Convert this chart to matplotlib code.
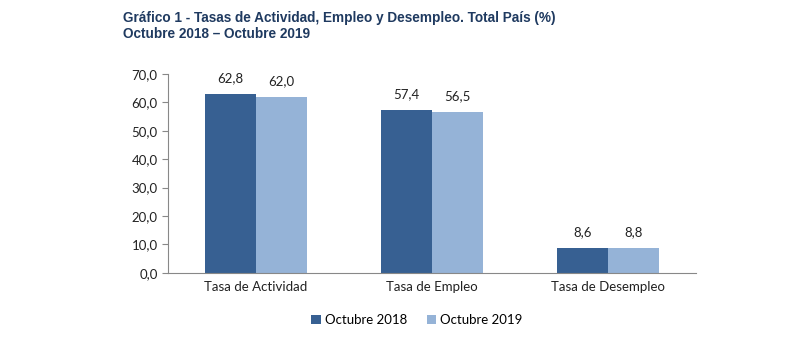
import numpy as np
import matplotlib.pyplot as plt

categories = ['Tasa de Actividad', 'Tasa de Empleo', 'Tasa de Desempleo']
oct_2018 = [62.8, 57.4, 8.6]
oct_2019 = [62.0, 56.5, 8.8]
series_names = ['Octubre 2018', 'Octubre 2019']

plt.rcParams['font.family'] = ['Lato', 'DejaVu Sans']

fig = plt.figure(figsize=(7.94, 3.39), dpi=100)
ax = fig.add_axes([0.2116, 0.195, 0.665, 0.587])

x = np.arange(len(categories))
w = 0.29
b1 = ax.bar(x - w / 2, oct_2018, w, color='#376092', label=series_names[0])
b2 = ax.bar(x + w / 2, oct_2019, w, color='#95B3D7', label=series_names[1])

for bars in (b1, b2):
    for r in bars:
        v = r.get_height()
        ax.text(r.get_x() + r.get_width() / 2, v + 3.5, f'{v:.1f}'.replace('.', ','),
                ha='center', va='bottom', fontsize=9.5, color='#222222')

ax.set_xlim(-0.5, 2.5)
ax.set_ylim(0, 70)
ax.set_yticks(np.arange(0, 71, 10))
ax.set_yticklabels([f'{t:.1f}'.replace('.', ',') for t in np.arange(0, 71, 10)])
ax.set_xticks(x)
ax.set_xticklabels(categories)
ax.tick_params(axis='y', labelsize=9.5, length=4, color='#888888', colors='#222222')
ax.tick_params(axis='x', labelsize=9.5, length=0, pad=6, colors='#222222')
for s in ('top', 'right'):
    ax.spines[s].set_visible(False)
ax.spines['left'].set_color('#888888')
ax.spines['bottom'].set_color('#888888')

fig.text(0.155, 0.935, 'Gráfico 1 - Tasas de Actividad, Empleo y Desempleo. Total País (%)',
         fontsize=9.8, fontweight='bold', color='#1F3A60', family='Liberation Sans')
fig.text(0.155, 0.887, 'Octubre 2018 – Octubre 2019',
         fontsize=9.8, fontweight='bold', color='#1F3A60', family='Liberation Sans')

fig.legend(handles=[b1, b2], loc='center', bbox_to_anchor=(0.525, 0.055), ncol=2,
           frameon=False, fontsize=9.5, handlelength=0.7, handleheight=0.7,
           handletextpad=0.3, columnspacing=1.5)

fig.savefig('out.png', dpi=100)
